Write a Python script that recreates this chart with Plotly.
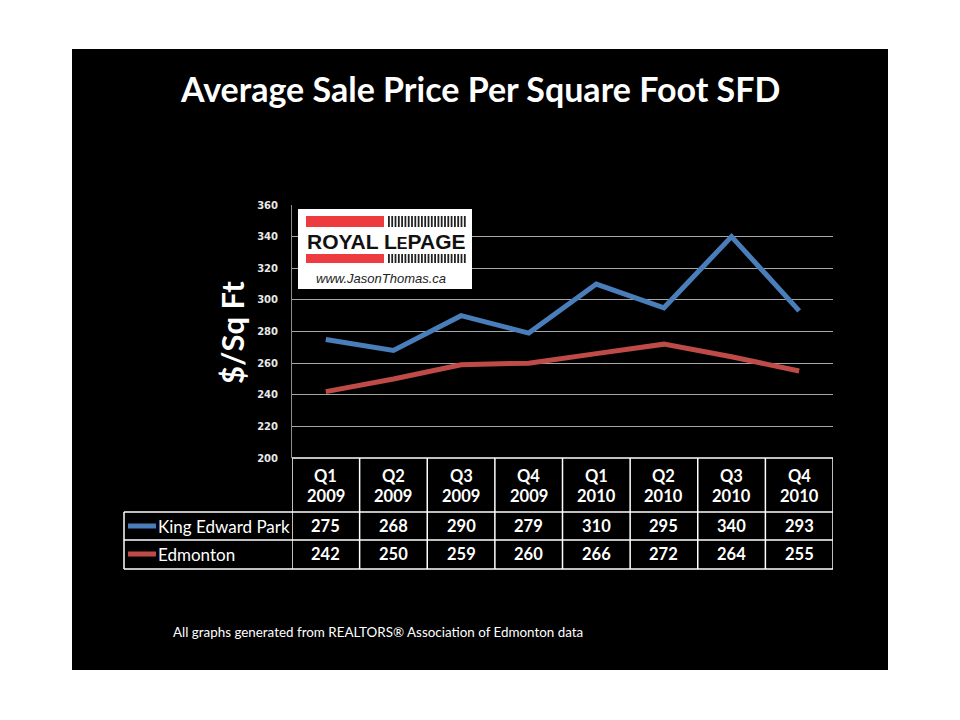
import plotly.graph_objects as go

quarters = ["Q1", "Q2", "Q3", "Q4", "Q1", "Q2", "Q3", "Q4"]
years = ["2009", "2009", "2009", "2009", "2010", "2010", "2010", "2010"]
series_names = ["King Edward Park", "Edmonton"]
king_edward = [275, 268, 290, 279, 310, 295, 340, 293]
edmonton = [242, 250, 259, 260, 266, 272, 264, 255]
series_values = [king_edward, edmonton]
series_colors = ["#4a7ebb", "#be4b48"]
y_ticks = [200, 220, 240, 260, 280, 300, 320, 340, 360]

W, H = 960, 720
OFF = 8  # page body margin offset
L, R, T, B = 292, 833, 205, 458  # target screen pixels


def px(x):
    return (x - L) / (R - L)


def py(y):
    return (B - y) / (B - T)


cats = list(range(len(quarters)))
fig = go.Figure()
for name, vals, col in zip(series_names, series_values, series_colors):
    fig.add_trace(go.Scatter(x=cats, y=vals, mode="lines", name=name,
                             line=dict(color=col, width=5), showlegend=False))

shapes = []
annotations = []

# black slide background
shapes.append(dict(type="rect", xref="paper", yref="paper", layer="below",
                   x0=px(72), x1=px(888), y0=py(670), y1=py(49),
                   fillcolor="#000000", line=dict(width=0)))

# Title
annotations.append(dict(xref="paper", yref="paper", x=px(480), y=py(88),
                        text="<b>Average Sale Price Per Square Foot SFD</b>",
                        showarrow=False, xanchor="center", yanchor="middle",
                        font=dict(family="Lato", size=34, color="white")))
# Y axis title
annotations.append(dict(xref="paper", yref="paper", x=px(232), y=py(333),
                        text="<b>$/Sq Ft</b>", textangle=-90, showarrow=False,
                        xanchor="center", yanchor="middle",
                        font=dict(family="Lato", size=31, color="white")))
# Footer
annotations.append(dict(xref="paper", yref="paper", x=px(171), y=py(632),
                        text="All graphs generated from REALTORS® Association of Edmonton data",
                        showarrow=False, xanchor="left", yanchor="middle",
                        font=dict(family="Lato", size=13.4, color="white")))

# Data table
white = dict(color="white", width=1.5)
for yy in [512, 540, 569]:
    shapes.append(dict(type="line", xref="paper", yref="paper",
                       x0=px(124), x1=1, y0=py(yy), y1=py(yy), line=white))
shapes.append(dict(type="line", xref="paper", yref="paper",
                   x0=0, x1=1, y0=py(458), y1=py(458), line=white))
shapes.append(dict(type="line", xref="paper", yref="paper",
                   x0=px(124), x1=px(124), y0=py(512), y1=py(569), line=white))
for k in range(len(cats) + 1):
    shapes.append(dict(type="line", xref="x", yref="paper",
                       x0=k - 0.5, x1=k - 0.5, y0=py(458), y1=py(569), line=white))

tfont = dict(family="Lato", size=16.5, color="white")
for i in cats:
    annotations.append(dict(xref="x", yref="paper", x=i, y=py(476),
                            text="<b>%s</b>" % quarters[i], showarrow=False,
                            xanchor="center", yanchor="middle", font=tfont))
    annotations.append(dict(xref="x", yref="paper", x=i, y=py(496),
                            text="<b>%s</b>" % years[i], showarrow=False,
                            xanchor="center", yanchor="middle", font=tfont))
row_y = [526, 554]
for r, (name, vals, col) in enumerate(zip(series_names, series_values, series_colors)):
    for i in cats:
        annotations.append(dict(xref="x", yref="paper", x=i, y=py(row_y[r]),
                                text="<b>%d</b>" % vals[i], showarrow=False,
                                xanchor="center", yanchor="middle", font=tfont))
    shapes.append(dict(type="line", xref="paper", yref="paper",
                       x0=px(128), x1=px(156), y0=py(row_y[r]), y1=py(row_y[r]),
                       line=dict(color=col, width=5)))
    annotations.append(dict(xref="paper", yref="paper", x=px(156), y=py(row_y[r]),
                            text=name, showarrow=False, xanchor="left", yanchor="middle",
                            font=dict(family="Lato", size=17, color="white")))

# Logo
shapes.append(dict(type="rect", xref="paper", yref="paper",
                   x0=px(298), x1=px(472), y0=py(289), y1=py(209),
                   fillcolor="white", line=dict(width=0)))
for (y0, y1) in [(216, 227), (254, 263)]:
    shapes.append(dict(type="rect", xref="paper", yref="paper",
                       x0=px(306), x1=px(384), y0=py(y1), y1=py(y0),
                       fillcolor="#ee3b3f", line=dict(width=0)))
    for s in range(24):
        xx = 388 + s * 3.3
        shapes.append(dict(type="rect", xref="paper", yref="paper",
                           x0=px(xx), x1=px(xx + 1.8), y0=py(y1), y1=py(y0),
                           fillcolor="#222222", line=dict(width=0)))
annotations.append(dict(xref="paper", yref="paper", x=px(386), y=py(241),
                        text="<b>ROYAL L<span style='font-size:16px'>E</span>PAGE</b>",
                        showarrow=False, xanchor="center", yanchor="middle",
                        font=dict(family="Liberation Sans", size=21, color="#111111")))
annotations.append(dict(xref="paper", yref="paper", x=px(381), y=py(278),
                        text="<i>www.JasonThomas.ca</i>",
                        showarrow=False, xanchor="center", yanchor="middle",
                        font=dict(family="Liberation Sans", size=13, color="#222222")))

fig.update_layout(
    width=W, height=H,
    margin=dict(l=L - OFF, r=W - R + OFF, t=T - OFF, b=H - B + OFF, pad=0),
    paper_bgcolor="white",
    plot_bgcolor="#404040",
    shapes=shapes,
    annotations=annotations,
    xaxis=dict(range=[-0.5, len(cats) - 0.5], showticklabels=False, showgrid=False,
               zeroline=False, fixedrange=True),
    yaxis=dict(range=[200, 360], tickvals=y_ticks, ticktext=[str(v) for v in y_ticks],
               showgrid=True, gridcolor="#a6a6a6", gridwidth=1, zeroline=False,
               showline=True, linecolor="#8c8c8c", linewidth=1,
               ticks="outside", ticklen=11, tickcolor="#000000",
               tickfont=dict(family="DejaVu Sans", size=10, color="#e8e8e8", weight="bold"),
               fixedrange=True),
)

fig.write_html("out.html")
